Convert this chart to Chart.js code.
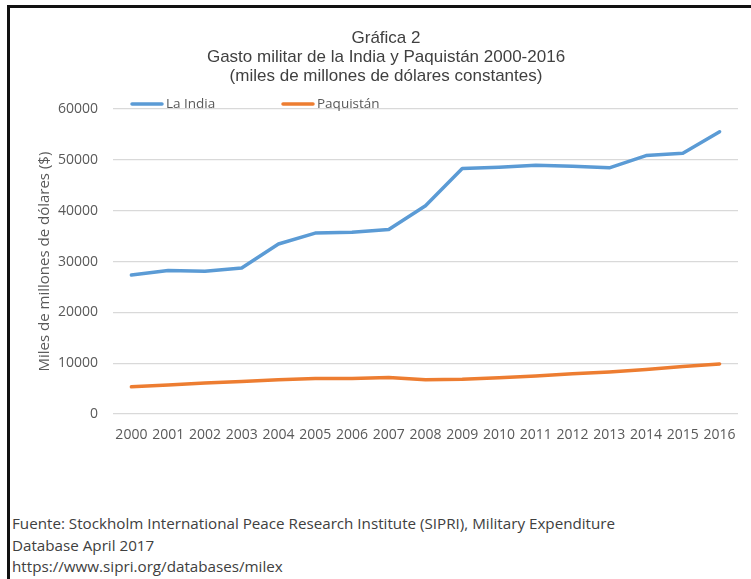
<!DOCTYPE html>
<html>
<head>
<meta charset="utf-8">
<script src="https://cdn.jsdelivr.net/npm/chart.js@4.4.1/dist/chart.umd.min.js"></script>
<style>
  html, body { margin: 0; padding: 0; background: #fff; overflow: hidden; width: 751px; height: 579px; }
  .frame { position: absolute; left: 7px; top: 5px; width: 780px; height: 600px; border: 3px solid #111; box-sizing: border-box; }
  .box { position: absolute; left: 9px; top: 8px; width: 754px; height: 440px; }
  .note { position: absolute; left: 12px; top: 513px; font-family: "Open Sans", sans-serif; font-size: 15.2px; line-height: 21.5px; color: #404040; }
</style>
</head>
<body>
<div class="frame"></div>
<div class="box"><canvas id="myChart" width="754" height="440"></canvas></div>
<div class="note">
  Fuente: Stockholm International Peace Research Institute (SIPRI), Military Expenditure<br>
  Database April 2017<br>
  https://www.sipri.org/databases/milex
</div>
<script>
// Years on the x axis
const years = ['2000', '2001', '2002', '2003', '2004', '2005', '2006', '2007', '2008',
  '2009', '2010', '2011', '2012', '2013', '2014', '2015', '2016'];

// Spending
const india = [27350, 28250, 28100, 28750, 33450, 35600, 35750, 36300, 41000,
  48300, 48550, 48950, 48750, 48450, 50850, 51300, 55550];
const pakistan = [5350, 5700, 6100, 6400, 6750, 7000, 7000, 7200, 6750,
  6850, 7150, 7500, 7900, 8250, 8750, 9350, 9850];

const seriesNames = ['La India', 'Paquistán'];
const seriesColors = ['#5B9BD5', '#ED7D31'];

// Excel style legend sitting on the top gridline
const legendLine = {
  id: 'legendLine',
  afterDraw(chart) {
    const ctx = chart.ctx;
    const y = chart.chartArea.top - 5;
    let x = chart.chartArea.left + 17;
    ctx.save();
    chart.data.datasets.forEach(ds => {
      ctx.strokeStyle = ds.borderColor;
      ctx.lineWidth = 3.5;
      ctx.lineCap = 'round';
      ctx.beginPath();
      ctx.moveTo(x + 2, y);
      ctx.lineTo(x + 32, y);
      ctx.stroke();
      ctx.fillStyle = '#595959';
      ctx.font = '13.5px "Open Sans"';
      ctx.textBaseline = 'middle';
      ctx.fillText(ds.label, x + 36, y);
      x += 151;
    });
    ctx.restore();
  }
};

const chartData = {
  labels: years,
  datasets: [{
    label: seriesNames[0],
    data: india,
    borderColor: seriesColors[0],
    backgroundColor: seriesColors[0]
  }, {
    label: seriesNames[1],
    data: pakistan,
    borderColor: seriesColors[1],
    backgroundColor: seriesColors[1]
  }]
};

const config = {
  type: 'line',
  data: chartData,
  options: {
    responsive: false,
    animation: false,
    layout: { padding: { left: 25, right: 25, top: 0, bottom: 0 } },
    elements: {
      line: { borderWidth: 3.5, tension: 0, borderJoinStyle: 'round', borderCapStyle: 'round' },
      point: { radius: 0, hoverRadius: 0 }
    },
    plugins: {
      legend: { display: false },
      tooltip: { enabled: false },
      title: {
        display: true,
        text: ['Gráfica 2', 'Gasto militar de la India y Paquistán 2000-2016', '(miles de millones de dólares constantes)'],
        color: '#404040',
        font: { family: '"Liberation Sans", Arial, sans-serif', size: 17, weight: 'normal', lineHeight: 1.12 },
        padding: { top: 21, bottom: 23 }
      }
    },
    scales: {
      x: {
        offset: true,
        grid: { display: false, drawTicks: false },
        border: { display: false },
        ticks: {
          color: '#595959',
          font: { family: '"Open Sans"', size: 14 },
          padding: 13,
          autoSkip: false,
          maxRotation: 0
        },
        afterFit(scale) { scale.height = 34; }
      },
      y: {
        min: 0,
        max: 60000,
        grid: { color: '#D9D9D9', lineWidth: 1.3, drawTicks: false },
        border: { display: false },
        ticks: {
          stepSize: 10000,
          color: '#595959',
          font: { family: '"Open Sans"', size: 14 },
          padding: 15,
          callback: v => String(v)
        },
        title: {
          display: true,
          text: 'Miles de millones de dólares ($)',
          color: '#595959',
          font: { family: '"Open Sans"', size: 15, lineHeight: 1.2 },
          padding: { top: 2, bottom: 0 }
        },
        afterFit(scale) { scale.width = 79; }
      }
    }
  },
  plugins: [legendLine]
};

const myChart = new Chart(document.getElementById('myChart'), config);
</script>
</body>
</html>
